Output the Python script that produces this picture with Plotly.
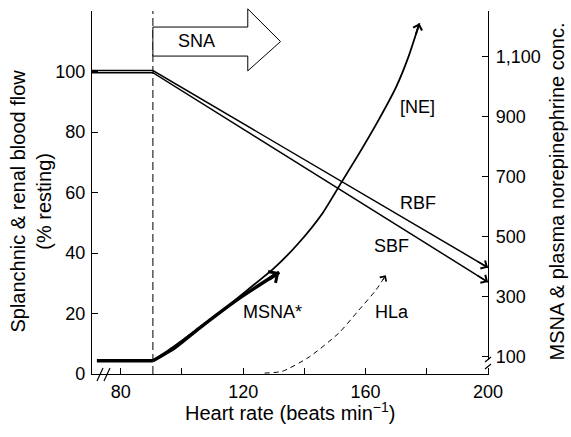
import plotly.graph_objects as go

# ---------------- data ----------------
hr_flow = [70.6, 90.5, 200]
rbf = [100.3, 100.3, 35.2]
sbf = [99.6, 99.6, 30.4]

hr_base = [72.2, 90.5]
base_level = [87, 87]

ne_hr = [90.5, 98, 106, 114, 122, 130, 138, 146, 152, 158, 164, 170, 174, 177.6]
ne_val = [87, 140, 200, 262, 328, 395, 478, 580, 680, 780, 885, 1000, 1100, 1212]

msna_hr = [90.5, 97.6, 105.7, 118.8, 131.8]
msna_val = [87, 130, 196, 296, 382]

hla_hr = [127, 132.8, 141.6, 151.3, 157.8, 163.4, 166.6]
hla_val = [46, 52, 100, 180, 256, 323, 372]

x_ticks = [80, 100, 120, 140, 160, 180, 200]
x_labels = ["80", "", "120", "", "160", "", "200"]
y_ticks = [0, 20, 40, 60, 80, 100, 120]
y_labels = ["0", "20", "40", "60", "80", "100", ""]
y2_ticks = [100, 300, 500, 700, 900, 1100]
y2_labels = ["100", "300", "500", "700", "900", "1,100"]

knee = 90.5
sna_box = dict(x0=90.5, x1=121.5, tip=132.2, y_lo=105.1, y_hi=114.7, head_lo=100.2, head_hi=120.7)

FONT = "Liberation Sans, Arial, Helvetica, sans-serif"
FS = 18
FS_TITLE = 20
X_RANGE = [70.6, 200]
Y_MAX = 120
Y2_RANGE = [43, 1253]
W, H = 396, 363  # plot area size in px

fig = go.Figure()

def line(x, y, width, axis="y", dash=None, smooth=False):
    ln = dict(color="black", width=width, dash=dash)
    if smooth:
        ln.update(shape="spline", smoothing=0.6)
    fig.add_trace(go.Scatter(x=x, y=y, mode="lines", yaxis=axis, line=ln,
                             hoverinfo="skip", showlegend=False))

line(hr_flow, rbf, 1.5)
line(hr_flow, sbf, 1.5)
line(hr_base, base_level, 3.5, "y2")
line(ne_hr, ne_val, 1.8, "y2", smooth=True)
line(msna_hr, msna_val, 3.5, "y2", smooth=True)
line(hla_hr, hla_val, 1.0, "y2", dash="5px,4px", smooth=True)

annotations = []

def arrow_head(x, y, yref, width, size, length_px=14):
    sx = W / (X_RANGE[1] - X_RANGE[0])
    sy = H / (Y_MAX if yref == "y" else (Y2_RANGE[1] - Y2_RANGE[0]))
    dx, dy = x[-1] - x[-2], y[-1] - y[-2]
    seg = ((dx * sx) ** 2 + (dy * sy) ** 2) ** 0.5
    f = min(1.0, length_px / seg)
    annotations.append(dict(x=x[-1], y=y[-1], ax=x[-1] - f * dx, ay=y[-1] - f * dy,
                            xref="x", yref=yref, axref="x", ayref=yref,
                            showarrow=True, arrowhead=4, arrowwidth=width, arrowsize=size,
                            arrowcolor="black", text=" ", font=dict(size=1)))

arrow_head(hr_flow, rbf, "y", 1.5, 1.2)
arrow_head(hr_flow, sbf, "y", 1.5, 1.2)
arrow_head(ne_hr, ne_val, "y2", 1.8, 1.0)
arrow_head(msna_hr, msna_val, "y2", 3.5, 0.75)
arrow_head(hla_hr, hla_val, "y2", 1.0, 1.5, length_px=8)

def label(text, x, y):
    annotations.append(dict(x=x, y=y, xref="x", yref="y", text=text, showarrow=False,
                            font=dict(family=FONT, size=FS, color="black")))

label("[NE]", 177, 88.3)
label("RBF", 177, 56.5)
label("SBF", 168.6, 42.3)
label("MSNA*", 129.5, 20.5)
label("HLa", 168.6, 20.5)
label("SNA", 104.8, 110)

# axis titles
annotations.append(dict(x=0, y=0.475, xref="paper", yref="paper", xshift=-61,
                        xanchor="center", yanchor="middle",
                        text="Splanchnic & renal blood flow<br>(% resting)", textangle=-90,
                        showarrow=False, font=dict(family=FONT, size=FS_TITLE, color="black")))
annotations.append(dict(x=1, y=0.503, xref="paper", yref="paper", xshift=69,
                        xanchor="center", yanchor="middle",
                        text="MSNA & plasma norepinephrine conc.", textangle=-90,
                        showarrow=False, font=dict(family=FONT, size=FS_TITLE, color="black")))
annotations.append(dict(x=0.5, y=0, xref="paper", yref="paper", yshift=-37,
                        xanchor="center", yanchor="middle",
                        text="Heart rate (beats min<sup>−1</sup>)",
                        showarrow=False, font=dict(family=FONT, size=FS_TITLE, color="black")))

shapes = []
# dashed vertical line at the knee
shapes.append(dict(type="line", xref="x", yref="paper", x0=knee, x1=knee, y0=0, y1=1,
                   line=dict(color="black", width=1, dash="8px,4px")))
# SNA arrow (y given in left-axis units, converted to paper fraction)
b = sna_box
pts = [(b["x0"], b["y_lo"]), (b["x1"], b["y_lo"]), (b["x1"], b["head_lo"]),
       (b["tip"], (b["y_lo"] + b["y_hi"]) / 2), (b["x1"], b["head_hi"]),
       (b["x1"], b["y_hi"]), (b["x0"], b["y_hi"])]
path = "M " + " L ".join(f"{x},{y / Y_MAX}" for x, y in pts) + " Z"
shapes.append(dict(type="path", xref="x", yref="paper", path=path,
                   fillcolor="white", line=dict(color="black", width=1)))

# axis break marks (paper coords)
def px(xp, yp):
    return (xp - 92) / W, (374 - yp) / H
for x0p in (97, 104):
    a = px(x0p, 381); c = px(x0p + 6, 368)
    shapes.append(dict(type="line", xref="paper", yref="paper", x0=a[0], y0=a[1], x1=c[0], y1=c[1],
                       line=dict(color="black", width=1.2)))
# right axis break
g0 = px(488, 368); g1 = px(488, 360)
shapes.append(dict(type="line", xref="paper", yref="paper", x0=g0[0], y0=g0[1], x1=g1[0], y1=g1[1],
                   line=dict(color="white", width=3)))
for y0p in (369, 362):
    a = px(485, y0p); c = px(491, y0p - 5)
    shapes.append(dict(type="line", xref="paper", yref="paper", x0=a[0], y0=a[1], x1=c[0], y1=c[1],
                       line=dict(color="black", width=1.2)))

axis_common = dict(showgrid=False, zeroline=False, showline=True, linecolor="black", linewidth=1.3,
                   ticks="inside", ticklen=6, tickwidth=1.2, tickcolor="black",
                   tickfont=dict(family=FONT, size=FS, color="black"))

fig.update_layout(
    width=571, height=437,
    margin=dict(l=92, r=83, t=11, b=63),
    paper_bgcolor="white", plot_bgcolor="white",
    showlegend=False,
    xaxis=dict(range=X_RANGE, tickmode="array", tickvals=x_ticks, ticktext=x_labels,
               ticklabelstandoff=1, **axis_common),
    yaxis=dict(range=[0, Y_MAX], tickmode="array", tickvals=y_ticks, ticktext=y_labels,
               ticklabelstandoff=2, **axis_common),
    yaxis2=dict(range=Y2_RANGE, overlaying="y", side="right", tickmode="array",
                tickvals=y2_ticks, ticktext=y2_labels, ticklabelstandoff=3, **axis_common),
    annotations=annotations,
    shapes=shapes,
)

fig.write_html("out.html", config={"displayModeBar": False},
               post_script="document.body.style.margin='0';")
